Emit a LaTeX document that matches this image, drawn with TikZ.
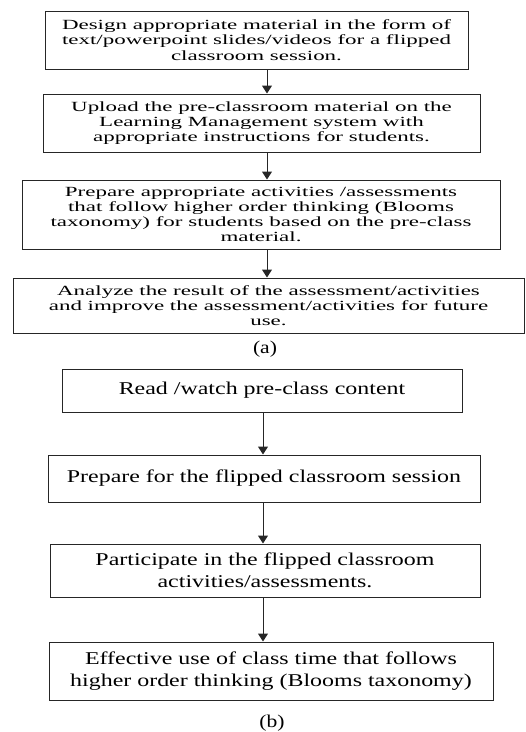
\documentclass[tikz,border=0pt]{standalone}
\usepackage{fontspec}
\setmainfont{Liberation Serif}
\newfontfamily\fa[FakeStretch=1.64]{Liberation Serif}
\newfontfamily\fb[FakeStretch=1.33]{Liberation Serif}
\newfontfamily\fc[FakeStretch=1.2]{Liberation Serif}
\usetikzlibrary{arrows.meta}
\tikzset{
  boxa/.style={draw=black!85, line width=1pt, inner sep=0pt, align=center,
    font=\fa\fontsize{14}{15.2}\selectfont},
  boxb/.style={draw=black!85, line width=1pt, inner sep=0pt, align=center,
    font=\fb\fontsize{18}{21.5}\selectfont},
  arr/.style={draw=black!85, line width=1pt, -{Triangle[width=10pt,length=8pt]}},
  sublabel/.style={inner sep=0pt, font=\fc\fontsize{18}{20}\selectfont}
}
\begin{document}
\begin{tikzpicture}[x=1pt,y=1pt]
\useasboundingbox (0,0) rectangle (526,-732);
% part (a)
\node[boxa, minimum width=423pt, minimum height=58pt] (a1) at (256.5,-40)
  {Design appropriate material in the form of\\text/powerpoint slides/videos for a flipped\\classroom session.};
\node[boxa, minimum width=437pt, minimum height=58pt] (a2) at (261.5,-123)
  {Upload the pre-classroom material on the\\Learning Management system with\\appropriate instructions for students.};
\node[boxa, minimum width=478pt, minimum height=69pt] (a3) at (261,-214.5)
  {Prepare appropriate activities /assessments\\that follow higher order thinking (Blooms\\taxonomy) for students based on the pre-class\\material.};
\node[boxa, minimum width=511pt, minimum height=55pt] (a4) at (268.5,-305.5)
  {Analyze the result of the assessment/activities\\and improve the assessment/activities for future\\use.};
\node[sublabel] (la) at (265,-349) {(a)};
\coordinate (ax) at (267,0);
\draw[arr] (a1.south -| ax) -- (a2.north -| ax);
\draw[arr] (a2.south -| ax) -- (a3.north -| ax);
\draw[arr] (a3.south -| ax) -- (a4.north -| ax);
% part (b)
\node[boxb, minimum width=400pt, minimum height=43pt] (b1) at (262,-390.5)
  {Read /watch pre-class content};
\node[boxb, minimum width=432pt, minimum height=47pt] (b2) at (264,-478.5)
  {Prepare for the flipped classroom session};
\node[boxb, minimum width=430pt, minimum height=53pt] (b3) at (265,-570.5)
  {Participate in the flipped classroom\\activities/assessments.};
\node[boxb, minimum width=444pt, minimum height=58pt] (b4) at (271,-671)
  {Effective use of class time that follows\\higher order thinking (Blooms taxonomy)};
\node[sublabel] (lb) at (272,-723) {(b)};
\coordinate (bx) at (263,0);
\draw[arr] (b1.south -| bx) -- (b2.north -| bx);
\draw[arr] (b2.south -| bx) -- (b3.north -| bx);
\draw[arr] (b3.south -| bx) -- (b4.north -| bx);
\end{tikzpicture}
\end{document}
